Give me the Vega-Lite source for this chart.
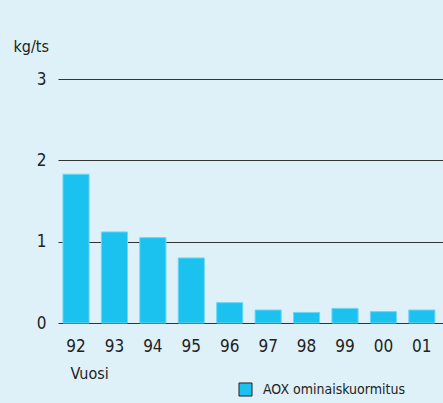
{
  "$schema": "https://vega.github.io/schema/vega-lite/v6.json",
  "width": 385,
  "height": 244,
  "autosize": {"type": "none"},
  "padding": {"left": 58, "top": 79, "right": 0, "bottom": 80},
  "background": "#dff1f8",
  "config": {
    "view": {"stroke": null},
    "font": "DejaVu Sans Condensed",
    "axis": {"labelFont": "DejaVu Sans Condensed", "titleFont": "DejaVu Sans Condensed", "labelColor": "#222", "titleColor": "#222"},
    "legend": {"labelFont": "DejaVu Sans Condensed"}
  },
  "data": {
    "values": [
      {"vuosi": "92", "aox": 1.83},
      {"vuosi": "93", "aox": 1.12},
      {"vuosi": "94", "aox": 1.05},
      {"vuosi": "95", "aox": 0.80},
      {"vuosi": "96", "aox": 0.25},
      {"vuosi": "97", "aox": 0.16},
      {"vuosi": "98", "aox": 0.13},
      {"vuosi": "99", "aox": 0.18},
      {"vuosi": "00", "aox": 0.14},
      {"vuosi": "01", "aox": 0.16}
    ]
  },
  "mark": {"type": "bar", "stroke": "#6fd6f3", "strokeWidth": 1},
  "encoding": {
    "x": {
      "field": "vuosi",
      "type": "nominal",
      "sort": null,
      "scale": {"paddingInner": 0.32, "paddingOuter": 0.17, "align": 0.38},
      "axis": {
        "title": "Vuosi",
        "titleFontSize": 16,
        "titleFontWeight": "normal",
        "titleAnchor": "start",
        "titleAlign": "left",
        "titleBaseline": "alphabetic",
        "titleX": 12,
        "titleY": 55,
        "labelAngle": 0,
        "labelFontSize": 17,
        "labelPadding": 15,
        "domain": false,
        "ticks": false
      }
    },
    "y": {
      "field": "aox",
      "type": "quantitative",
      "scale": {"domain": [0, 3]},
      "axis": {
        "title": "kg/ts",
        "titleFontSize": 16,
        "titleFontWeight": "normal",
        "titleAngle": 0,
        "titleAlign": "left",
        "titleBaseline": "alphabetic",
        "titleX": -45,
        "titleY": -28,
        "values": [0, 1, 2, 3],
        "labelFontSize": 17,
        "labelPadding": 12,
        "domain": false,
        "ticks": false,
        "grid": true,
        "gridColor": "#333",
        "gridWidth": 1.2,
        "gridOpacity": 1
      }
    },
    "color": {
      "datum": "AOX ominaiskuormitus",
      "type": "nominal",
      "scale": {"range": ["#1bc2f0"]},
      "legend": {
        "title": null,
        "orient": "none",
        "legendX": 180,
        "legendY": 303,
        "symbolType": "square",
        "symbolSize": 170,
        "symbolStrokeColor": "#222",
        "symbolStrokeWidth": 1,
        "labelFontSize": 14,
        "labelLimit": 0,
        "labelColor": "#222",
        "labelOffset": 10
      }
    }
  }
}
